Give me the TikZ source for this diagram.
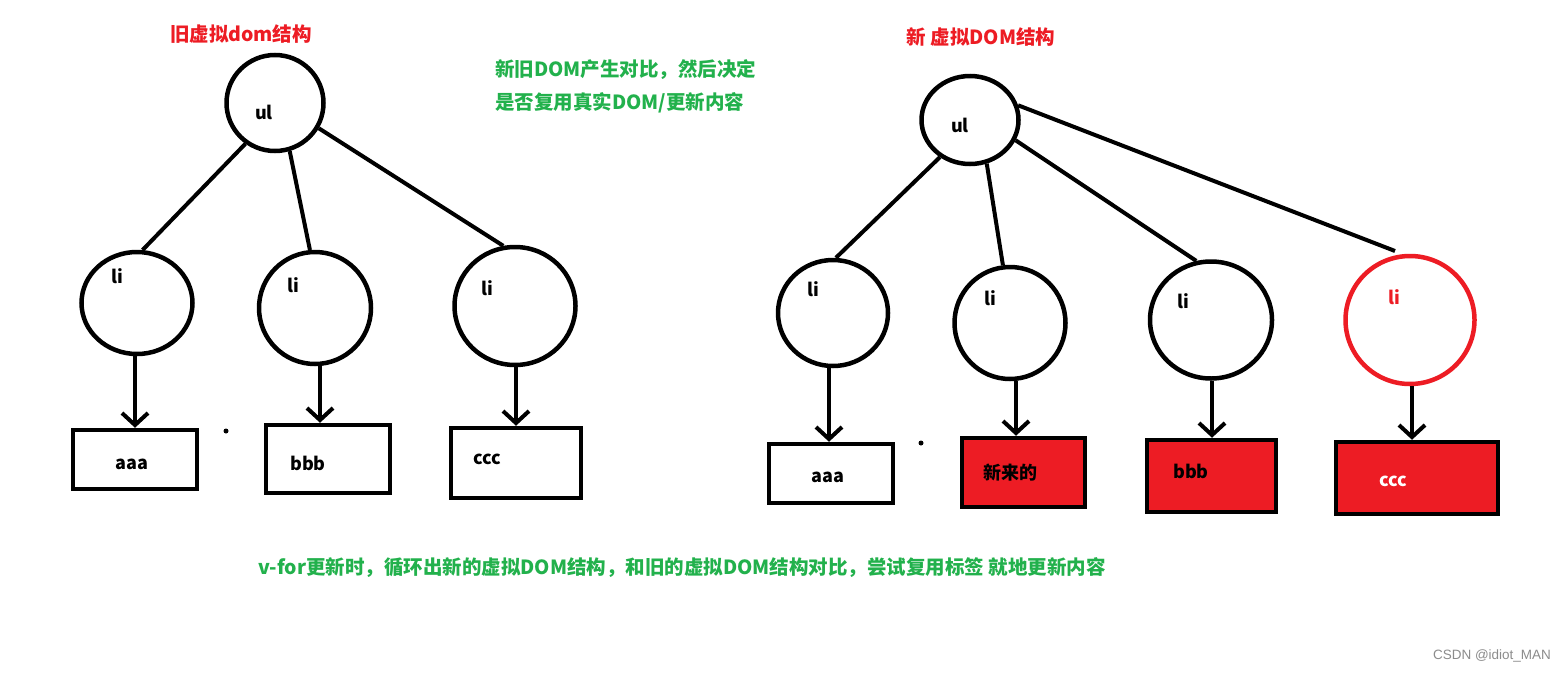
\documentclass[tikz,border=0pt]{standalone}
\usepackage{fontspec}
\setmainfont{Noto Sans CJK SC}
\newfontfamily\wmfont{Liberation Sans}
\usetikzlibrary{shapes.geometric,arrows.meta,calc}
\definecolor{pred}{HTML}{ED1C24}
\definecolor{pgreen}{HTML}{22B14C}
\tikzset{
  tnode/.style={ellipse,draw=black,line width=4.5pt,inner sep=0pt},
  tbox/.style={rectangle,draw=black,line width=4.5pt,inner sep=0pt},
  edge/.style={line width=4pt},
  arr/.style={line width=4pt,-{Straight Barb[length=12pt,width=26pt]}},
  lbl/.style={font=\fontsize{18}{20}\selectfont\bfseries,inner sep=0pt},
  title/.style={font=\fontsize{19.5}{22}\selectfont\bfseries,inner sep=0pt},
}
\begin{document}
\begin{tikzpicture}[x=1pt,y=-1pt]
\useasboundingbox[fill=white] (0,0) rectangle (1568,672);
% ---------- old tree ----------
\node[title,text=pred] (t1) at (241,34) {旧虚拟dom结构};
\node[title,text=pgreen,anchor=west] (g1) at (495,70) {新旧DOM产生对比，然后决定};
\node[title,text=pgreen,anchor=west] (g2) at (495,103) {是否复用真实DOM/更新内容};

\node[tnode,minimum width=97pt,minimum height=96pt] (oul) at (275,103) {};
\node[tnode,minimum width=111pt,minimum height=102pt] (ol1) at (137,303) {};
\node[tnode,minimum width=112pt,minimum height=112pt] (ol2) at (315,308) {};
\node[tnode,minimum width=121pt,minimum height=118pt] (ol3) at (515,306) {};
\node[lbl] (oult) at (264,112) {ul};
\node[lbl] (ol1t) at (117,276) {li};
\node[lbl] (ol2t) at (293,285) {li};
\node[lbl] (ol3t) at (487,288) {li};

\node[tbox,minimum width=124pt,minimum height=59pt] (ob1) at (135,459.5) {};
\node[tbox,minimum width=124pt,minimum height=68pt] (ob2) at (328,459) {};
\node[tbox,minimum width=130pt,minimum height=70pt] (ob3) at (516,463) {};
\node[lbl] (ob1t) at (132,464) {aaa};
\node[lbl] (ob2t) at (308,463) {bbb};
\node[lbl] (ob3t) at (487,459) {ccc};

\draw[edge] (oul.234) -- (ol1.84);
\draw[edge] (oul.287) -- (ol2.95);
\draw[edge] (oul.330) -- (ol3.101);
\draw[arr] ([xshift=-2pt]ol1.south) -- ([xshift=-2pt]ol1.south |- ob1.north);
\draw[arr] ([xshift=5pt]ol2.south) -- ([xshift=5pt]ol2.south |- ob2.north);
\draw[arr] ([xshift=1pt]ol3.south) -- ([xshift=1pt]ol3.south |- ob3.north);
\fill (226,431) circle (2.5pt);

% ---------- new tree ----------
\node[title,text=pred] (t2) at (981,37) {新 虚拟DOM结构};
\node[tnode,minimum width=97pt,minimum height=88pt] (nul) at (970,120) {};
\node[tnode,minimum width=110pt,minimum height=106pt] (nl1) at (833,313) {};
\node[tnode,minimum width=111pt,minimum height=112pt] (nl2) at (1010,323) {};
\node[tnode,minimum width=122pt,minimum height=117pt] (nl3) at (1211,320) {};
\node[tnode,draw=pred,minimum width=129pt,minimum height=128pt] (nl4) at (1410,320) {};
\node[lbl] (nult) at (960,125) {ul};
\node[lbl] (nl1t) at (813,289) {li};
\node[lbl] (nl2t) at (990,298) {li};
\node[lbl] (nl3t) at (1183,301) {li};
\node[lbl,text=pred] (nl4t) at (1394,297) {li};

\node[tbox,minimum width=124pt,minimum height=59pt] (nb1) at (831,473.5) {};
\node[tbox,fill=pred,minimum width=123pt,minimum height=69pt] (nb2) at (1023.5,472.5) {};
\node[tbox,fill=pred,minimum width=129pt,minimum height=72pt] (nb3) at (1211.5,476) {};
\node[tbox,fill=pred,minimum width=162pt,minimum height=72pt] (nb4) at (1417,478) {};
\node[lbl] (nb1t) at (828,477) {aaa};
\node[lbl] (nb2t) at (1010,473) {新来的};
\node[lbl] (nb3t) at (1191,471) {bbb};
\node[lbl,text=white] (nb4t) at (1393,481) {ccc};

\draw[edge] (nul.231) -- (nl1.87);
\draw[edge] (nul.291) -- (nl2.97);
\draw[edge] (nul.336) -- (nl3.104);
\coordinate (n4end) at (1395,251);
\draw[edge] (nul.17) -- (n4end);
\draw[arr] ([xshift=-4pt]nl1.south) -- ([xshift=-4pt]nl1.south |- nb1.north);
\draw[arr] ([xshift=6pt]nl2.south) -- ([xshift=6pt]nl2.south |- nb2.north);
\draw[arr] ([xshift=1pt]nl3.south) -- ([xshift=1pt]nl3.south |- nb3.north);
\draw[arr] ([xshift=2pt]nl4.south) -- ([xshift=2pt]nl4.south |- nb4.north);
\fill (921,443) circle (2.5pt);

% ---------- bottom ----------
\node[title,text=pgreen,anchor=west] (bot) at (258,568) {v-for更新时，循环出新的虚拟DOM结构，和旧的虚拟DOM结构对比，尝试复用标签~就地更新内容};
\node[font=\wmfont\fontsize{13.5}{15}\selectfont,text=black!45,inner sep=0pt] (wm) at (1492,656) {CSDN @idiot\_MAN};
\end{tikzpicture}
\end{document}
